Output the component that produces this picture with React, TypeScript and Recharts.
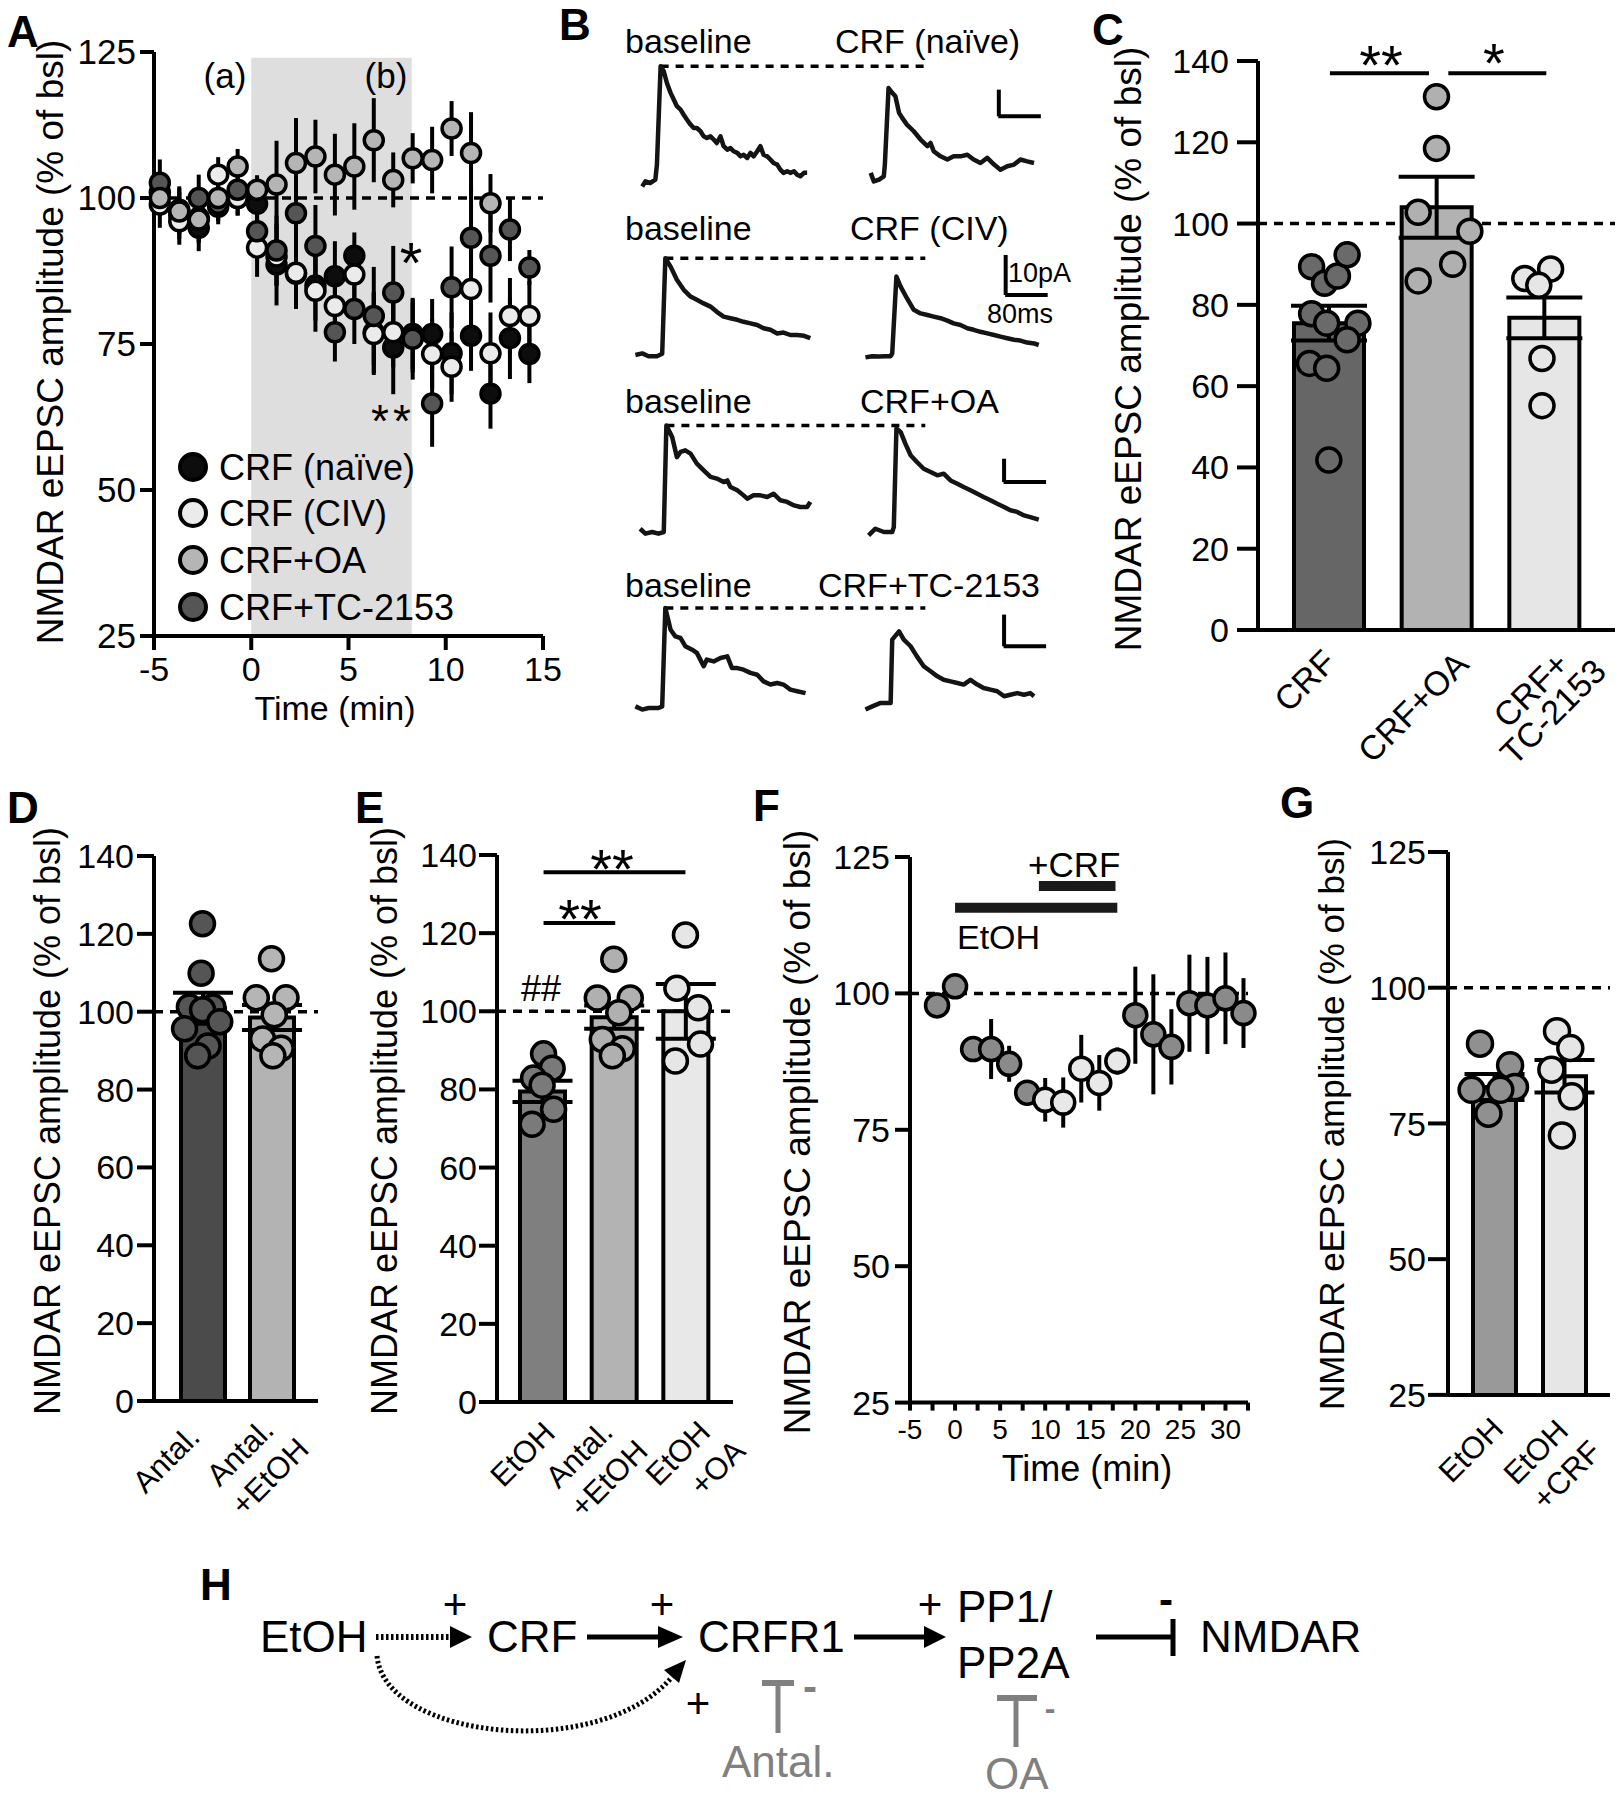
import React from 'react'
import {
  ComposedChart,
  Scatter,
  ErrorBar,
  XAxis,
  YAxis,
  ReferenceLine,
  ReferenceArea,
  Bar,
  Cell,
  Line,
} from 'recharts'

const FONT = '"Liberation Sans", Arial, Helvetica, sans-serif'

// ---------- Panel A: NMDAR eEPSC time course (% of baseline) ----------
const TIME_A = [-4.7, -3.7, -2.7, -1.7, -0.7, 0.3, 1.3, 2.3, 3.3, 4.3, 5.3, 6.3, 7.3, 8.3, 9.3, 10.3, 11.3, 12.3, 13.3, 14.3]
const NAIVE_A = [101, 97, 94.9, 98.5, 100, 99, 88.6, 87, 85, 86.6, 90.1, 77, 74.4, 76.7, 76.7, 73.4, 76.4, 66.5, 76, 73.3]
const NAIVE_A_ERR = [3, 4, 4, 3, 3, 4, 7, 6, 6, 6, 4, 7, 8, 6, 6, 7, 6, 6, 7, 5]
const CIV_A = [98.9, 96, 96.6, 104, 100, 91.5, 90, 87.2, 84.1, 81.5, 86.9, 76.7, 77, 76.1, 73.3, 71.1, 84.4, 73.4, 79.8, 79.8]
const CIV_A_ERR = [4, 4, 4, 3, 3, 5, 5, 6, 7, 6, 5, 7, 6, 6, 6, 6, 9, 7, 6.5, 6]
const OA_A = [100, 97.7, 96.3, 100, 105.4, 101.4, 102.3, 106, 107.1, 104, 105.4, 109.9, 103.1, 106.8, 106.5, 111.9, 107.7, 99.1]
const OA_A_ERR = [3, 4, 4, 3, 3, 2.5, 7.5, 7.7, 6.3, 7, 7.4, 7.2, 4.7, 4.3, 5.7, 4.7, 7, 5]
const TC_A = [102.6, 98, 100, 99, 101.4, 94.3, 91, 97.4, 91.8, 77, 81, 79.8, 83.8, 75.9, 64.8, 84.7, 93.2, 90.1, 94.6, 88.1]
const TC_A_ERR = [4, 4, 4, 3, 3, 5, 6, 7, 7, 5, 6, 8.4, 8, 7, 7.4, 7, 9, 8, 5.4, 3]
const A_NAMES = ['CRF (naïve)', 'CRF (CIV)', 'CRF+OA', 'CRF+TC-2153']
const A_FILL = ['#0d0d0d', '#ebebeb', '#b5b5b5', '#555555']
const CRF_WINDOW = [0, 8.25] // shaded application window (min)

// ---------- Panel B: example traces (ms, pA) ----------
const B1_BSL = [[29, -1.3], [35, 0.6], [44, 0], [54, 1.3], [57, 6.9], [64, 43.8], [70, 41.9], [76, 37.5], [83, 33.8], [89, 31.3], [95, 28.8], [102, 27.5], [108, 25.6], [114, 23.8], [121, 21.9], [127, 20.6], [133, 20.6], [140, 19.4], [146, 17.5], [152, 16.9], [159, 17.5], [165, 16.3], [171, 15], [178, 17.5], [184, 13.8], [191, 12.5], [197, 13.1], [203, 11.9], [210, 11.3], [216, 10], [222, 10.6], [229, 9.4], [235, 11.3], [241, 10], [248, 11.9], [254, 13.8], [260, 10.6], [267, 10], [273, 8.8], [279, 7.5], [286, 6.9], [292, 5], [298, 3.8], [305, 4.4], [311, 3.8], [318, 4.4], [324, 3.1], [330, 2.5], [337, 3.8], [343, 3.8]]
const B1_CRF = [[464, 3.8], [470, 0.6], [480, 1.3], [489, 2.5], [491, 6.9], [498, 35.6], [505, 33.8], [511, 32.5], [518, 26.3], [524, 24.4], [533, 21.9], [546, 19.4], [559, 16.3], [572, 13.8], [578, 15], [584, 11.9], [597, 10], [610, 8.8], [622, 10], [635, 10], [648, 10.6], [660, 8.8], [673, 7.5], [686, 9.4], [699, 6.9], [711, 5], [724, 6.3], [737, 6.9], [749, 8.8], [762, 8.1], [775, 7.5]]
const B2_BSL = [[16, 0], [29, 0.4], [41, -0.3], [57, -0.3], [67, 0.3], [73, 24.2], [83, 22.1], [95, 18.8], [108, 16.3], [121, 14.6], [133, 13.8], [146, 12.9], [159, 12.1], [171, 10.8], [184, 9.6], [197, 9.2], [210, 8.8], [222, 8.3], [235, 7.9], [248, 7.5], [260, 6.7], [273, 6.3], [286, 5.4], [298, 5.6], [311, 5], [324, 5], [337, 4.8], [349, 4.2]]
const B2_CRF = [[454, -0.6], [467, -0.3], [480, -0.4], [492, -0.3], [502, -0.3], [505, 0.4], [513, 19.6], [521, 17.1], [533, 14.2], [546, 11.3], [559, 10.4], [572, 10], [584, 9.6], [597, 9.2], [610, 8.6], [622, 7.9], [635, 7.5], [648, 6.7], [660, 6.3], [673, 5.8], [686, 5.4], [699, 5], [711, 4.6], [724, 4.2], [737, 3.8], [749, 3.6], [762, 3.1], [775, 2.9], [784, 2.5]]
const B3_BSL = [[25, 1.4], [35, -0.7], [48, 0], [60, -0.7], [70, 0], [75, 45.7], [86, 40.7], [95, 32.1], [102, 34.3], [111, 35], [121, 33.6], [133, 29.3], [146, 26.4], [159, 23.6], [171, 22.9], [184, 21.4], [191, 22.1], [197, 19.3], [210, 17.9], [222, 15.7], [229, 14.3], [241, 15.7], [254, 15.7], [267, 15], [279, 16.4], [292, 13.6], [305, 12.9], [318, 11.4], [330, 10.7], [343, 10.7], [349, 12.9]]
const B3_OA = [[460, -1.4], [473, 1.4], [489, 0], [505, 0], [508, 2.1], [513, 44.3], [521, 42.9], [530, 37.9], [540, 32.9], [552, 30], [565, 27.1], [578, 25.7], [591, 24.3], [603, 25], [616, 22.1], [629, 20.7], [641, 19.3], [654, 17.9], [667, 16.4], [679, 15], [692, 13.6], [705, 12.1], [718, 10.7], [730, 9.3], [743, 8.6], [756, 7.1], [768, 6.4], [784, 5.3]]
const B4_BSL = [[16, 0.5], [29, -0.5], [41, 0], [60, 0], [67, 0.5], [73, 31.6], [83, 24.7], [92, 22.6], [102, 22.1], [111, 19.5], [124, 18.4], [133, 17.4], [146, 13.2], [152, 15.3], [165, 14.7], [178, 15.8], [191, 16.3], [200, 12.6], [210, 12.6], [222, 12.1], [235, 11.1], [248, 10.5], [260, 8.4], [273, 7.4], [286, 7.9], [298, 7.4], [311, 5.8], [324, 5.3], [340, 4.7]]
const B4_TC = [[454, -0.5], [467, 0.5], [483, 1.6], [502, 1.6], [505, 21.6], [518, 24.2], [527, 21.6], [540, 19.5], [552, 16.3], [565, 13.2], [578, 11.6], [591, 10], [603, 8.9], [616, 8.4], [629, 7.9], [641, 7.4], [654, 8.9], [667, 7.4], [679, 6.3], [692, 5.8], [705, 5.3], [718, 3.7], [730, 4.2], [743, 4.7], [756, 4.2], [768, 4.7], [775, 3.7]]
const B_LABELS = [['baseline', 'CRF (naïve)'], ['baseline', 'CRF (CIV)'], ['baseline', 'CRF+OA'], ['baseline', 'CRF+TC-2153']]

// ---------- Panel C ----------
const C_CATS = ['CRF', 'CRF+OA', 'CRF+\nTC-2153']
const C_MEAN = [75.5, 104, 76.8]
const C_SEM = [4.3, 7.5, 5]
const C_CRF_PTS = [89.4, 85.3, 87.1, 92.3, 77.8, 75.5, 75.5, 71.4, 65.6, 64.4, 41.8]
const C_OA_PTS = [131.2, 118.5, 102.8, 98.1, 90, 85.9]
const C_TC_PTS = [86.5, 88.8, 84.8, 66.8, 55.2]

// ---------- Panel D ----------
const D_CATS = ['Antal.', 'Antal.\n+EtOH']
const D_MEAN = [100.9, 98.5]
const D_SEM = [4, 3.2]
const D_ANT_PTS = [122.6, 109.9, 101.2, 101.2, 100.5, 95.6, 97.4, 91.2, 88.7]
const D_ANTE_PTS = [113.6, 103.6, 103.6, 99.2, 93, 90.6, 88.7]

// ---------- Panel E ----------
const E_CATS = ['EtOH', 'Antal.\n+EtOH', 'EtOH\n+OA']
const E_MEAN = [79.5, 98.5, 100]
const E_SEM = [2.7, 3, 7]
const E_ETOH_PTS = [89.1, 85.4, 82.9, 81.1, 74.9, 71.1]
const E_ANT_PTS = [113.3, 103.4, 103.4, 99.6, 92.8, 90.4, 88.6]
const E_OA_PTS = [119.5, 105.9, 100.9, 91.6, 87.3]

// ---------- Panel F ----------
const TIME_F = [-2, 0, 2, 4, 6, 8, 10, 12, 14, 16, 18, 20, 22, 24, 26, 28, 30, 32]
const VAL_F = [97.8, 101.3, 89.8, 89.8, 87.1, 81.8, 80.5, 80, 86.2, 83.6, 87.6, 96, 92.5, 90.2, 98.2, 97.8, 99.1, 96.4]
const ERR_F = [1, 1, 1.5, 5.5, 3.3, 2, 4, 4.6, 6.2, 5.1, 2.5, 8.9, 11, 6.9, 8.9, 8.9, 8.4, 6.4]
const PHASE_F = ['bsl', 'bsl', 'EtOH', 'EtOH', 'EtOH', 'EtOH', 'CRF', 'CRF', 'CRF', 'CRF', 'CRF', 'wash', 'wash', 'wash', 'wash', 'wash', 'wash', 'wash']
const F_ETOH_ON = [0, 18]
const F_CRF_ON = [9.3, 17.8]

// ---------- Panel G ----------
const G_CATS = ['EtOH', 'EtOH\n+CRF']
const G_MEAN = [81.7, 83.7]
const G_SEM = [2.4, 3]
const G_ETOH_PTS = [89.7, 85.7, 81.2, 81.7, 81.2, 76.8]
const G_CRF_PTS = [92, 88.9, 84.9, 80, 72.8]

// ---------- layout (scatter spread, label offsets) ----------
const C_JIT = [[-0.16, -0.04, 0.08, 0.17, -0.16, -0.02, 0.27, 0.17, -0.18, -0.02, 0], [0, 0, -0.17, 0.31, 0.15, -0.17], [-0.18, 0.06, -0.05, -0.02, -0.02]]
const D_JIT = [[0, -0.02, -0.19, 0.15, 0, -0.26, 0.25, 0.08, -0.07], [0, -0.22, 0.21, 0.04, -0.13, 0.14, 0.02]]
const E_JIT = [[0.01, 0.13, -0.13, -0.01, 0.15, -0.15], [-0.01, -0.24, 0.22, 0.06, -0.17, 0.11, -0.03], [-0.01, -0.13, 0.17, 0.2, -0.15]]
const G_JIT = [[-0.2, 0.23, -0.32, 0.3, 0.09, -0.08], [-0.1, 0.09, -0.18, 0.11, -0.03]]

const AX = { stroke: '#000', strokeWidth: 4 }
const tickFont = (fs: number) => ({ fill: '#000', fontSize: fs, fontFamily: FONT })
const DASH = { stroke: '#000', strokeWidth: 3.5, strokeDasharray: '9 7' }

function place(x0: number, y0: number, x1: number, y1: number, yw: number, xh: number, mt = 30, mr = 30) {
  return {
    style: { position: 'absolute' as const, left: x0 - yw, top: y0 - mt },
    width: x1 - x0 + yw + mr,
    height: y1 - y0 + xh + mt,
    margin: { top: mt, right: mr, bottom: 0, left: 0 },
  }
}

const dot = (r: number, sw: number) => (p: any) =>
  p.cx == null ? <g /> : <circle cx={p.cx} cy={p.cy} r={r} fill={p.fill} stroke="#000" strokeWidth={sw} />

// rotated (-45deg) category label; offs = top-right corner of first line relative to tick,
// cd = perpendicular / along-text shift of the following line
function RotTick(props: any) {
  const { x, y, payload, cats, offs, cd, fs } = props
  const idx = cats.indexOf(payload.value)
  const [tx, ty] = offs[idx] || [0, 20]
  const lines = String(payload.value).split('\n')
  const cap = 0.51 * fs
  return (
    <g>
      {lines.map((s, i) => {
        const ex = x + tx + i * (cd[0] + cd[1])
        const ey = y + ty + cap + i * (cd[0] - cd[1])
        return (
          <text key={i} x={ex} y={ey} textAnchor="end" fontSize={fs} fontFamily={FONT} fill="#000" transform={`rotate(-45 ${ex} ${ey})`}>
            {s}
          </text>
        )
      })}
    </g>
  )
}

function PanelA() {
  const p = place(154, 52, 543, 636, 110, 100)
  const series = [
    { v: NAIVE_A, e: NAIVE_A_ERR, c: A_FILL[0] },
    { v: CIV_A, e: CIV_A_ERR, c: A_FILL[1] },
    { v: TC_A, e: TC_A_ERR, c: A_FILL[3] },
    { v: OA_A, e: OA_A_ERR, c: A_FILL[2] },
  ]
  return (
    <div style={p.style}>
      <ComposedChart width={p.width} height={p.height} margin={p.margin}>
        <ReferenceArea x1={CRF_WINDOW[0]} x2={CRF_WINDOW[1]} y1={25} y2={124} fill="#dedede" fillOpacity={1} stroke="none" />
        <ReferenceLine y={100} {...DASH} />
        <XAxis type="number" dataKey="t" domain={[-5, 15]} ticks={[-5, 0, 5, 10, 15]} interval={0} tickSize={14} tickMargin={7} axisLine={AX} tickLine={AX} tick={tickFont(34)} height={100} />
        <YAxis domain={[25, 125]} ticks={[25, 50, 75, 100, 125]} interval={0} width={110} tickSize={14} tickMargin={4} axisLine={AX} tickLine={AX} tick={tickFont(35)} />
        {series.map((s, si) => (
          <Scatter key={si} data={s.v.map((v, i) => ({ t: TIME_A[i], v, e: s.e[i] }))} dataKey="v" fill={s.c} shape={dot(9.5, 3.5)} isAnimationActive={false}>
            <ErrorBar dataKey="e" direction="y" width={0} stroke="#000" strokeWidth={4} />
          </Scatter>
        ))}
      </ComposedChart>
    </div>
  )
}

const B_ROWS = [
  { traces: [B1_BSL, B1_CRF], base: 183.3, ppa: 2.667, bar: [708, 25] },
  { traces: [B2_BSL, B2_CRF], base: 355, ppa: 4, bar: [721, 15] },
  { traces: [B3_BSL, B3_OA], base: 531.7, ppa: 2.333, bar: [718, 21.4] },
  { traces: [B4_BSL, B4_TC], base: 708.3, ppa: 3.167, bar: [718, 19.5] },
]

function TraceRow({ row }: any) {
  const p = place(626.7, row.base - 130, 1050, row.base + 15, 0, 0, 0, 0)
  const pk = row.traces[0].reduce((m: number[], d: number[]) => (d[1] > m[1] ? d : m))
  const [bt, bi] = row.bar
  return (
    <div style={p.style}>
      <ComposedChart width={p.width} height={p.height} margin={p.margin}>
        <XAxis type="number" dataKey="t" domain={[0, 806]} hide />
        <YAxis domain={[-15 / row.ppa, 130 / row.ppa]} hide />
        <ReferenceLine segment={[{ x: pk[0], y: pk[1] }, { x: 568, y: pk[1] }]} {...DASH} strokeDasharray="8 7" />
        <ReferenceLine segment={[{ x: bt, y: bi }, { x: bt, y: bi + 10 }]} stroke="#000" strokeWidth={4} />
        <ReferenceLine segment={[{ x: bt - 1, y: bi }, { x: bt + 80, y: bi }]} stroke="#000" strokeWidth={4} />
        {row.traces.map((tr: number[][], i: number) => (
          <Line key={i} data={tr.map(([t, v]) => ({ t, i: v }))} dataKey="i" type="linear" dot={false} stroke="#141414" strokeWidth={4.5} strokeLinejoin="round" isAnimationActive={false} />
        ))}
      </ComposedChart>
    </div>
  )
}

function BarPanel(props: any) {
  const { plot, yw = 110, domain, ticks, tickLen, tickGap, cats, means, sems, barFills, pts, jit, ptFills, barSize, pad, r, capW, sig = [], labOffs, labCd, labFs } = props
  const [x0, y0, x1, y1] = plot
  const p = place(x0, y0, x1, y1, yw, 180)
  const data = cats.map((name: string, i: number) => ({ name, mean: means[i], sem: sems[i] }))
  return (
    <div style={p.style}>
      <ComposedChart width={p.width} height={p.height} margin={p.margin} data={data}>
        <ReferenceLine y={100} {...DASH} zIndex={-1} />
        <XAxis
          dataKey="name"
          type="category"
          padding={pad}
          axisLine={AX}
          tickLine={false}
          tickSize={0}
          tickMargin={0}
          interval={0}
          tick={(t: any) => <RotTick {...t} cats={cats} offs={labOffs} cd={labCd} fs={labFs} />}
          height={180}
        />
        <XAxis xAxisId="n" type="number" dataKey="x" domain={[0.5, cats.length + 0.5]} padding={pad} hide />
        <YAxis domain={domain} ticks={ticks} interval={0} width={yw} tickSize={tickLen} tickMargin={tickGap} axisLine={AX} tickLine={AX} tick={tickFont(34)} />
        <Bar dataKey="mean" barSize={barSize} stroke="#000" strokeWidth={4} isAnimationActive={false}>
          {data.map((d: any, i: number) => (
            <Cell key={i} fill={barFills[i]} />
          ))}
          <ErrorBar dataKey="sem" direction="y" width={capW} stroke="#000" strokeWidth={4} />
        </Bar>
        {pts.map((set: number[], ci: number) => (
          <Scatter key={ci} xAxisId="n" data={set.map((v, i) => ({ x: ci + 1 + jit[ci][i], y: v }))} dataKey="y" fill={ptFills[ci]} shape={dot(r, 3.5)} isAnimationActive={false} />
        ))}
        {sig.map((s: number[], i: number) => (
          <ReferenceLine key={i} xAxisId="n" segment={[{ x: s[0], y: s[2] }, { x: s[1], y: s[2] }]} stroke="#000" strokeWidth={4} />
        ))}
      </ComposedChart>
    </div>
  )
}

function FTick(p: any) {
  const v = p.payload.value
  if (v % 5 !== 0) return <g />
  return (
    <text x={p.x} y={p.y} dy="0.71em" textAnchor="middle" fontSize={28} fontFamily={FONT} fill="#000">
      {v}
    </text>
  )
}

function PanelF() {
  const p = place(910, 857, 1248, 1402.6, 110, 100)
  const data = TIME_F.map((t, i) => ({ t, v: VAL_F[i], e: ERR_F[i] }))
  return (
    <div style={p.style}>
      <ComposedChart width={p.width} height={p.height} margin={p.margin}>
        <ReferenceLine y={100} {...DASH} />
        <ReferenceLine segment={[{ x: F_ETOH_ON[0], y: 115.7 }, { x: F_ETOH_ON[1], y: 115.7 }]} stroke="#1a1a1a" strokeWidth={10} />
        <ReferenceLine segment={[{ x: F_CRF_ON[0], y: 119.7 }, { x: F_CRF_ON[1], y: 119.7 }]} stroke="#1a1a1a" strokeWidth={10} />
        <XAxis
          type="number"
          dataKey="t"
          domain={[-5, 32.5]}
          ticks={[-5, -2.5, 0, 2.5, 5, 7.5, 10, 12.5, 15, 17.5, 20, 22.5, 25, 27.5, 30, 32.5]}
          interval={0}
          tickSize={8}
          tickMargin={9}
          axisLine={AX}
          tickLine={AX}
          tick={(t: any) => <FTick {...t} />}
          height={100}
        />
        <YAxis domain={[25, 125]} ticks={[25, 50, 75, 100, 125]} interval={0} width={110} tickSize={15} tickMargin={5} axisLine={AX} tickLine={AX} tick={tickFont(34)} />
        <Scatter data={data} dataKey="v" fill="#8a8a8a" shape={dot(11.5, 3.5)} isAnimationActive={false}>
          {data.map((d, i) => (
            <Cell key={i} fill={PHASE_F[i] === 'CRF' ? '#e8e8e8' : '#8a8a8a'} />
          ))}
          <ErrorBar dataKey="e" direction="y" width={0} stroke="#000" strokeWidth={4} />
        </Scatter>
      </ComposedChart>
    </div>
  )
}

function YTitle({ x, y, fs }: any) {
  return (
    <text transform={`translate(${x},${y}) rotate(-90)`} textAnchor="middle" fontSize={fs} fontFamily={FONT} fill="#000">
      NMDAR eEPSC amplitude (% of bsl)
    </text>
  )
}

function Overlay() {
  const letters: [string, number, number][] = [['A', 7, 47], ['B', 559, 40], ['C', 1092, 45], ['D', 7, 823], ['E', 355, 823], ['F', 753, 821], ['G', 1280, 818], ['H', 200, 1600]]
  const bY = [53, 240, 413, 597]
  const bX = [835, 850, 860, 818]
  const legY = [467, 513, 560, 607]
  const gray = '#808080'
  return (
    <svg width={1621} height={1800} style={{ position: 'absolute', left: 0, top: 0, pointerEvents: 'none' }} fontFamily={FONT}>
      {letters.map(([s, x, y]) => (
        <text key={s} x={x} y={y} fontSize={44} fontWeight="bold">{s}</text>
      ))}
      {/* A */}
      <YTitle x={63} y={342} fs={37} />
      <text x={225} y={88} fontSize={35} textAnchor="middle">(a)</text>
      <text x={386} y={88} fontSize={35} textAnchor="middle">(b)</text>
      <text x={411} y={283} fontSize={58} textAnchor="middle">*</text>
      <text x={393} y={437} fontSize={46} letterSpacing={4} textAnchor="middle">**</text>
      <text x={335} y={720} fontSize={34} textAnchor="middle">Time (min)</text>
      {A_NAMES.map((n, i) => (
        <g key={n}>
          <circle cx={193} cy={legY[i]} r={13} fill={A_FILL[i]} stroke="#000" strokeWidth={4} />
          <text x={219} y={legY[i] + 12.5} fontSize={36}>{n}</text>
        </g>
      ))}
      {/* B */}
      {B_LABELS.map((l, i) => (
        <g key={i}>
          <text x={625} y={bY[i]} fontSize={34}>{l[0]}</text>
          <text x={bX[i]} y={bY[i]} fontSize={34}>{l[1]}</text>
        </g>
      ))}
      <text x={1008} y={282} fontSize={27}>10pA</text>
      <text x={987} y={323} fontSize={27}>80ms</text>
      {/* C */}
      <YTitle x={1141} y={349} fs={37} />
      <text x={1381} y={84} fontSize={56} textAnchor="middle">**</text>
      <text x={1494} y={82} fontSize={56} textAnchor="middle">*</text>
      {/* D, E */}
      <YTitle x={60} y={1121} fs={36} />
      <YTitle x={397} y={1121} fs={36} />
      <text x={612} y={888} fontSize={56} textAnchor="middle">**</text>
      <text x={580} y={938} fontSize={56} textAnchor="middle">**</text>
      <text x={541} y={1001} fontSize={36} textAnchor="middle">##</text>
      {/* F */}
      <YTitle x={810} y={1132} fs={37} />
      <text x={1028} y={877} fontSize={35}>+CRF</text>
      <text x={957} y={949} fontSize={34}>EtOH</text>
      <text x={1087} y={1481} fontSize={36} textAnchor="middle">Time (min)</text>
      {/* G */}
      <YTitle x={1344} y={1124} fs={35} />
      {/* H diagram */}
      <g fontSize={44}>
        <text x={260} y={1652}>EtOH</text>
        <text x={487} y={1652}>CRF</text>
        <text x={698} y={1652}>CRFR1</text>
        <text x={957} y={1622}>PP1/</text>
        <text x={957} y={1678}>PP2A</text>
        <text x={1200} y={1652}>NMDAR</text>
        <text x={722} y={1777} fill={gray}>Antal.</text>
        <text x={985} y={1789} fill={gray}>OA</text>
      </g>
      <g fontSize={42} textAnchor="middle">
        <text x={455} y={1619}>+</text>
        <text x={662} y={1619}>+</text>
        <text x={930} y={1619}>+</text>
        <text x={698} y={1718}>+</text>
        <text x={1166} y={1614} fontWeight="bold">-</text>
        <text x={810} y={1701} fontWeight="bold" fill={gray}>-</text>
      </g>
      <text x={1050} y={1719} fontSize={32} fontWeight="bold" fill={gray} textAnchor="middle">-</text>
      <g stroke="#000" fill="none">
        <line x1={376} y1={1637} x2={452} y2={1637} strokeWidth={6} strokeDasharray="2.5 2.5" />
        <line x1={587} y1={1637} x2={662} y2={1637} strokeWidth={5} />
        <line x1={854} y1={1637} x2={928} y2={1637} strokeWidth={5} />
        <line x1={1096} y1={1637} x2={1173} y2={1637} strokeWidth={5} />
        <line x1={1173} y1={1619} x2={1173} y2={1656} strokeWidth={5} />
        <path d="M 377 1656 C 385 1740, 600 1762, 672 1677" strokeWidth={5} strokeDasharray="2.5 2.5" />
      </g>
      <g fill="#000">
        <polygon points="450,1626 472,1637 450,1648" />
        <polygon points="658,1626 683,1637 658,1648" />
        <polygon points="924,1626 946,1637 924,1648" />
        <polygon points="686,1660 679,1683 664,1670" />
      </g>
      <g stroke={gray}>
        <line x1={762} y1={1683} x2={794} y2={1683} strokeWidth={6} />
        <line x1={778} y1={1683} x2={778} y2={1733} strokeWidth={5} />
        <line x1={997} y1={1698} x2={1037} y2={1698} strokeWidth={6} />
        <line x1={1016} y1={1698} x2={1016} y2={1747} strokeWidth={5} />
      </g>
    </svg>
  )
}

export default function App() {
  return (
    <div style={{ position: 'absolute', left: 0, top: 0, width: 1621, height: 1800, background: '#fff', overflow: 'hidden', fontFamily: FONT }}>
      <style>{`.recharts-surface{overflow:visible}`}</style>
      <PanelA />
      {B_ROWS.map((row, i) => (
        <TraceRow key={i} row={row} />
      ))}
      <BarPanel
        plot={[1258, 61, 1615, 630]}
        domain={[0, 140]}
        ticks={[0, 20, 40, 60, 80, 100, 120, 140]}
        tickLen={21}
        tickGap={8}
        cats={C_CATS}
        means={C_MEAN}
        sems={C_SEM}
        barFills={['#666666', '#b2b2b2', '#e6e6e6']}
        pts={[C_CRF_PTS, C_OA_PTS, C_TC_PTS]}
        jit={C_JIT}
        ptFills={['#6a6a6a', '#b0b0b0', '#e6e6e6']}
        barSize={70}
        pad={{ left: 17, right: 17 }}
        r={12}
        capW={38}
        sig={[[1.01, 1.93, 137], [2.11, 3.02, 137]]}
        labOffs={[[9, 17], [34, 19], [27, 19]]}
        labCd={[22, 15]}
        labFs={34}
      />
      <BarPanel
        plot={[154, 856, 318, 1401]}
        domain={[0, 140]}
        ticks={[0, 20, 40, 60, 80, 100, 120, 140]}
        tickLen={17}
        tickGap={3}
        cats={D_CATS}
        means={D_MEAN}
        sems={D_SEM}
        barFills={['#4b4b4b', '#b3b3b3']}
        pts={[D_ANT_PTS, D_ANTE_PTS]}
        jit={D_JIT}
        ptFills={['#555555', '#b5b5b5']}
        barSize={44}
        pad={{ left: 14, right: 12 }}
        r={12}
        capW={30}
        labOffs={[[-1, 22], [4, 15]]}
        labCd={[27, 8]}
        labFs={31}
      />
      <BarPanel
        plot={[497, 855, 733, 1402]}
        domain={[0, 140]}
        ticks={[0, 20, 40, 60, 80, 100, 120, 140]}
        tickLen={18}
        tickGap={2}
        cats={E_CATS}
        means={E_MEAN}
        sems={E_SEM}
        barFills={['#7f7f7f', '#b3b3b3', '#e8e8e8']}
        pts={[E_ETOH_PTS, E_ANT_PTS, E_OA_PTS]}
        jit={E_JIT}
        ptFills={['#7a7a7a', '#b0b0b0', '#e6e6e6']}
        barSize={45}
        pad={{ left: 10, right: 11 }}
        r={12}
        capW={30}
        sig={[[1.01, 2.99, 135.6], [1.01, 2.01, 122.6]]}
        labOffs={[[14, 17], [0, 16], [26, 16]]}
        labCd={[27, 8]}
        labFs={31}
      />
      <PanelF />
      <BarPanel
        plot={[1448, 852.4, 1610, 1395.3]}
        domain={[25, 125]}
        ticks={[25, 50, 75, 100, 125]}
        tickLen={20}
        tickGap={2}
        cats={G_CATS}
        means={G_MEAN}
        sems={G_SEM}
        barFills={['#999999', '#e6e6e6']}
        pts={[G_ETOH_PTS, G_CRF_PTS]}
        jit={G_JIT}
        ptFills={['#909090', '#e6e6e6']}
        barSize={43}
        pad={{ left: 11, right: 11 }}
        r={12.5}
        capW={30}
        labOffs={[[11, 20], [6, 22]]}
        labCd={[27, 6]}
        labFs={31}
      />
      <Overlay />
    </div>
  )
}
